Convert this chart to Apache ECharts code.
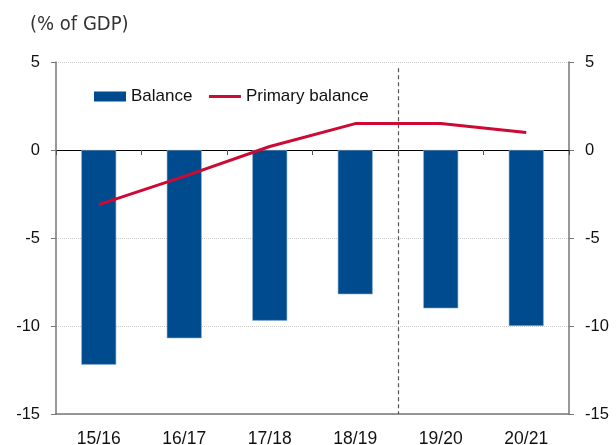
<!DOCTYPE html>
<html><head><meta charset="utf-8">
<script src="https://cdn.jsdelivr.net/npm/echarts@6/dist/echarts.min.js"></script>
<style>html,body{margin:0;padding:0;background:#fff}#c{width:616px;height:445px}</style>
</head><body><div id="c"></div>
<script>
const categories = ['15/16','16/17','17/18','18/19','19/20','20/21'];
const balance = [-12.2, -10.7, -9.7, -8.2, -9.0, -10.0];
const primaryBalance = [-3.1, -1.5, 0.2, 1.5, 1.5, 1.0];
const yTicks = [-15, -10, -5, 0, 5];
const forecastStart = 4; // boundary between 18/19 and 19/20
const dashTop = 4.65;

const chart = echarts.init(document.getElementById('c'));
const font = 'Liberation Sans, Arial, sans-serif';
chart.setOption({
  animation: false,
  textStyle: {fontFamily: font},
  title: {text: '(% of GDP)', left: 25, top: 10,
    textStyle: {fontFamily: 'DejaVu Sans Condensed, Liberation Sans, sans-serif', fontWeight: 'normal', fontSize: 20, color: '#333'}},
  legend: {left: 89, top: 83, itemWidth: 32, itemHeight: 10, itemGap: 15,
    textStyle: {fontSize: 17, color: '#111', fontFamily: font},
    data: [{name: 'Balance', icon: 'rect', itemStyle: {borderWidth: 0}},
           {name: 'Primary balance', itemStyle: {opacity: 0}, lineStyle: {width: 3}}]},
  grid: {left: 56, right: 47, top: 62, bottom: 31, outerBoundsMode: 'none'},
  xAxis: [
    {type: 'category', data: categories, position: 'bottom',
      axisLine: {onZero: false, lineStyle: {color: '#777', width: 1.5}},
      axisTick: {show: false},
      axisLabel: {fontSize: 17.5, color: '#111', margin: 16}},
    {type: 'category', data: categories, position: 'bottom',
      axisLine: {onZero: true, lineStyle: {color: '#000', width: 1}},
      axisTick: {show: true, length: 5, lineStyle: {color: '#555'}},
      axisLabel: {show: false}},
    {type: 'value', min: 0, max: 6, show: false}
  ],
  yAxis: [
    {type: 'value', min: yTicks[0], max: yTicks[yTicks.length-1], interval: 5, position: 'left',
      axisLine: {show: true, lineStyle: {color: '#777', width: 1.5}},
      axisTick: {show: true, length: 5, lineStyle: {color: '#777'}},
      axisLabel: {fontSize: 16.5, color: '#111', margin: 16},
      splitLine: {show: true, lineStyle: {color: '#ccc', type: 'dotted'}}},
    {type: 'value', min: yTicks[0], max: yTicks[yTicks.length-1], interval: 5, position: 'right',
      axisLine: {show: true, lineStyle: {color: '#777', width: 1.5}},
      axisTick: {show: true, length: 5, lineStyle: {color: '#777'}},
      axisLabel: {fontSize: 16.5, color: '#111', margin: 16},
      splitLine: {show: false}}
  ],
  series: [
    {name: 'Balance', type: 'bar', data: balance, xAxisIndex: 0, yAxisIndex: 0, barWidth: 35,
      itemStyle: {color: '#004b8d', borderColor: '#8fb3d6', borderWidth: 0.6}},
    {name: 'Primary balance', type: 'line', data: primaryBalance, xAxisIndex: 0, yAxisIndex: 0,
      symbol: 'none', lineStyle: {color: '#cc0a34', width: 3}, itemStyle: {color: '#cc0a34'}, z: 5},
    {type: 'line', data: [], xAxisIndex: 2, yAxisIndex: 0,
      markLine: {silent: true, symbol: 'none', label: {show: false},
        lineStyle: {color: '#555', type: [4, 3], width: 1.2},
        data: [[{coord: [forecastStart, dashTop]}, {coord: [forecastStart, yTicks[0]]}]]}}
  ]
});
</script></body></html>
